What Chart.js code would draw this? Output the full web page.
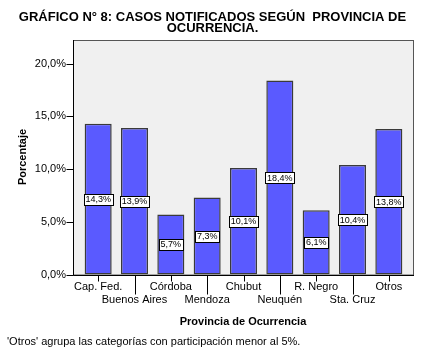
<!DOCTYPE html>
<html><head><meta charset="utf-8">
<script src="https://cdn.jsdelivr.net/npm/chart.js@4"></script>
<style>html,body{margin:0;padding:0;background:#fff}#wrap{width:425px;height:357px}</style>
</head><body><div id="wrap"><canvas id="c" width="425" height="357"></canvas></div>
<script>
const categories = ['Cap. Fed.','Buenos Aires','Córdoba','Mendoza','Chubut','Neuquén','R. Negro','Sta. Cruz','Otros'];
const values = [14.3, 13.9, 5.7, 7.3, 10.1, 18.4, 6.1, 10.4, 13.8];
const yTicks = [0, 5, 10, 15, 20];
const titleLines = ['GRÁFICO N° 8: CASOS NOTIFICADOS SEGÚN  PROVINCIA DE', 'OCURRENCIA.'];
const yTitle = 'Porcentaje';
const xTitle = 'Provincia de Ocurrencia';
const footnote = "'Otros' agrupa las categorías con participación menor al 5%.";

const fmt = v => v.toFixed(1).replace('.', ',') + '%';
const FONT = '"Liberation Sans", Arial, sans-serif';
const EXT = 7;

const decor = {
  id: 'decor',
  beforeDatasetsDraw(chart) {
    const {ctx, chartArea: a} = chart;
    ctx.save();
    ctx.fillStyle = '#f0f0f0';
    ctx.fillRect(a.left - EXT, a.top, a.right - a.left + 2 * EXT, a.bottom - a.top);
    ctx.strokeStyle = '#555';
    ctx.lineWidth = 1;
    ctx.strokeRect(Math.round(a.left - EXT) + 0.5, Math.round(a.top) + 0.5, a.right - a.left + 2 * EXT - 1, a.bottom - a.top);
    ctx.restore();
  },
  afterDraw(chart) {
    const {ctx, chartArea: a, scales: {x, y}} = chart;
    ctx.save();
    const L = Math.round(a.left - EXT) + 0.5;
    const B = Math.round(a.bottom) + 0.5;
    ctx.strokeStyle = '#000';
    ctx.lineWidth = 1;
    ctx.beginPath();
    ctx.moveTo(L, a.top); ctx.lineTo(L, B);
    ctx.lineTo(Math.round(a.right + EXT), B);
    yTicks.forEach(t => {
      const py = Math.round(y.getPixelForValue(t)) + 0.5;
      ctx.moveTo(L - 7, py); ctx.lineTo(L, py);
    });
    categories.forEach((c, i) => {
      const px = Math.round(x.getPixelForValue(i)) + 0.5;
      ctx.moveTo(px, B); ctx.lineTo(px, B + (i % 2 ? 19 : 6));
    });
    ctx.stroke();

    // value labels
    const meta = chart.getDatasetMeta(0);
    ctx.font = '9px ' + FONT;
    ctx.textAlign = 'center';
    ctx.textBaseline = 'middle';
    meta.data.forEach((bar, i) => {
      const txt = fmt(values[i]);
      const cy = (bar.y + bar.base) / 2;
      const w = Math.ceil(ctx.measureText(txt).width) + 3;
      const h = 11;
      const bx = Math.round(bar.x - w / 2) + 0.5, by = Math.round(cy - h / 2) + 0.5;
      ctx.fillStyle = '#fff';
      ctx.fillRect(bx, by, w, h);
      ctx.strokeStyle = '#000';
      ctx.strokeRect(bx, by, w, h);
      ctx.fillStyle = '#000';
      ctx.fillText(txt, bar.x, cy + 0.5);
    });

    // titles
    ctx.fillStyle = '#000';
    ctx.font = 'bold 13px ' + FONT;
    ctx.textAlign = 'center';
    ctx.fillText(titleLines[0], 212.5, 17);
    ctx.fillText(titleLines[1], 212.5, 28);
    ctx.font = 'bold 11px ' + FONT;
    ctx.fillText(xTitle, 243, 322);
    ctx.save();
    ctx.translate(23, 157);
    ctx.rotate(-Math.PI / 2);
    ctx.fillText(yTitle, 0, 0);
    ctx.restore();
    ctx.font = '11px ' + FONT;
    ctx.textAlign = 'left';
    ctx.fillText(footnote, 7, 342);
    ctx.restore();
  }
};

new Chart(document.getElementById('c'), {
  type: 'bar',
  data: {
    labels: categories.map((c, i) => i % 2 ? ['', c] : [c]),
    datasets: [{
      data: values,
      backgroundColor: '#5a5aff',
      borderColor: '#3a3a3a',
      borderWidth: 1.5,
      borderSkipped: false,
      categoryPercentage: 1,
      barPercentage: 0.744
    }]
  },
  options: {
    responsive: false,
    animation: false,
    devicePixelRatio: 1,
    layout: {padding: {top: 40, right: 18, left: 0, bottom: 0}},
    plugins: {legend: {display: false}, tooltip: {enabled: false}, title: {display: false}},
    scales: {
      x: {
        offset: true,
        grid: {display: false, drawTicks: false},
        border: {display: false},
        ticks: {autoSkip: false, maxRotation: 0, minRotation: 0, padding: 6, color: '#000', font: {family: FONT, size: 11}},
        afterFit(s) { s.height = 82.5; }
      },
      y: {
        min: 0, max: 22.25,
        grid: {display: false, drawTicks: false},
        border: {display: false},
        ticks: {stepSize: 5, includeBounds: false, padding: 14, color: '#000', font: {family: FONT, size: 11}, callback: v => fmt(v)},
        afterFit(s) { s.width = 80; }
      }
    }
  },
  plugins: [decor]
});
</script></body></html>
